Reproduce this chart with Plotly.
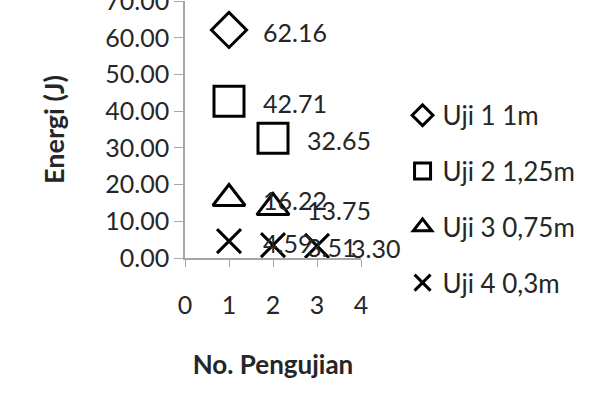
import plotly.graph_objects as go

series_names = ["Uji 1 1m", "Uji 2 1,25m", "Uji 3 0,75m", "Uji 4 0,3m"]
uji1_x = [1]
uji1_y = [62.16]
uji2_x = [1, 2]
uji2_y = [42.71, 32.65]
uji3_x = [1, 2]
uji3_y = [16.22, 13.75]
uji4_x = [1, 2, 3]
uji4_y = [4.59, 3.51, 3.30]
x_ticks = [0, 1, 2, 3, 4]
y_ticks = [0, 10, 20, 30, 40, 50, 60, 70]

FONT = "Lato, 'Open Sans', sans-serif"
TXT = "#262626"
FS = 25

symbols = ["diamond-open", "square-open", "triangle-up-open", "x-thin-open"]
sizes = [27, 30, 28, 24]
xs = [uji1_x, uji2_x, uji3_x, uji4_x]
ys = [uji1_y, uji2_y, uji3_y, uji4_y]

fig = go.Figure()
annotations = []
for i, name in enumerate(series_names):
    fig.add_trace(go.Scatter(
        x=xs[i], y=ys[i], name=name, mode="markers",
        legendgroup=f"g{i}",
        marker=dict(symbol=symbols[i], size=sizes[i], color="black",
                    line=dict(color="black", width=3)),
        cliponaxis=False,
    ))
    for xv, yv in zip(xs[i], ys[i]):
        annotations.append(dict(x=xv, y=yv, xref="x", yref="y", text=f"{yv:.2f}",
                                showarrow=False, xanchor="left", yanchor="middle",
                                xshift=32, yshift=-2,
                                font=dict(family=FONT, size=FS, color=TXT)))

fig.update_layout(
    width=592, height=396,
    margin=dict(l=185, r=231, t=1, b=138, autoexpand=False),
    paper_bgcolor="white", plot_bgcolor="white",
    font=dict(family=FONT, size=FS, color=TXT),
    showlegend=True,
    annotations=annotations,
    legend=dict(xref="container", yref="container", x=0.68, y=0.768,
                xanchor="left", yanchor="top", maxheight=1,
                font=dict(family=FONT, size=26, color=TXT),
                tracegroupgap=19, itemsizing="trace"),
    xaxis=dict(range=[0, 4], tickvals=x_ticks, ticktext=[str(v) for v in x_ticks],
               showgrid=False, zeroline=False, showline=True, linecolor="#a6a6a6",
               linewidth=1.5, ticks="outside", ticklen=7, tickcolor="#a6a6a6",
               ticklabelstandoff=17, tickfont=dict(size=FS), automargin=False,
               title=dict(text="<b>No. Pengujian</b>", font=dict(size=26), standoff=38)),
    yaxis=dict(range=[0, 70.05], tickvals=y_ticks, ticktext=[f"{v:.2f}" for v in y_ticks],
               showgrid=False, zeroline=False, showline=True, linecolor="#a6a6a6",
               linewidth=1.5, ticks="outside", ticklen=9, tickcolor="#a6a6a6",
               tickfont=dict(size=FS), ticklabeloverflow="allow", automargin=False,
               title=dict(text="<b>Energi (J)</b>", font=dict(size=27), standoff=33)),
)

fig.write_html("out.html")
